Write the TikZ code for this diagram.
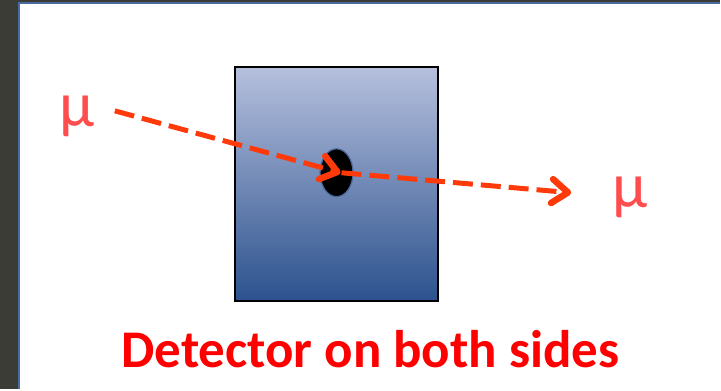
\documentclass[tikz,border=0pt]{standalone}
\usepackage{fontspec}
\setmainfont{Carlito}
\usetikzlibrary{positioning}
\usetikzlibrary{arrows.meta}
\usetikzlibrary{shapes.geometric}
\definecolor{slidegray}{HTML}{3B3C36}
\definecolor{slideblue}{HTML}{4A6AA0}
\definecolor{boxtop}{HTML}{B6C0DD}
\definecolor{boxbottom}{HTML}{2C528E}
\definecolor{trackred}{HTML}{FF3A0A}
\definecolor{mured}{HTML}{FF4D4D}
\tikzset{% detector sketch styles
  detector/.style = {draw=black, line width=2pt, rectangle, top color=boxtop,
    bottom color=boxbottom, minimum width=204pt, minimum height=234pt, inner sep=0},
  hole/.style     = {draw=slideblue, line width=1.2pt, fill=black, ellipse,
    minimum width=33pt, minimum height=48pt, inner sep=0},
  muon/.style     = {text=mured, font=\fontsize{64}{64}\selectfont, inner sep=0, anchor=base},
  track/.style    = {draw=trackred, line width=5pt, dash pattern=on 20pt off 8pt,
    -{Straight Barb[length=16pt, width=24pt, line width=6.5pt, round]}},
  caption/.style  = {text=red, font=\fontsize{53}{53}\selectfont\bfseries, inner sep=0, anchor=base},
}
\begin{document}
\begin{tikzpicture}[x=1pt, y=-1pt]
        % slide frame
        \fill[slidegray] (0,0) rectangle (721,390);
        \fill[white] (19,3) rectangle (721,390);
        \draw[slideblue, line width=2pt] (19,390) -- (19,3) -- (721,3);
        \useasboundingbox (0,0) rectangle (721,390);

        \node[detector] at (337,184) (Det) {};
        \node[hole] at (337,173) (Hole) {};

        \node[muon] at (77,127) (MuIn) {μ};
        \node[muon] at (631,208) (MuOut) {μ};

        \coordinate (InStart) at (115,111);
        \coordinate (OutEnd) at (572,193);

        \draw[track] (InStart) -- ([xshift=4pt]Hole.center);
        \draw[track] ([xshift=5pt]Hole.center) -- (OutEnd);

        \node[caption] at (371,368) (Caption) {Detector on both sides};
\end{tikzpicture}
\end{document}
